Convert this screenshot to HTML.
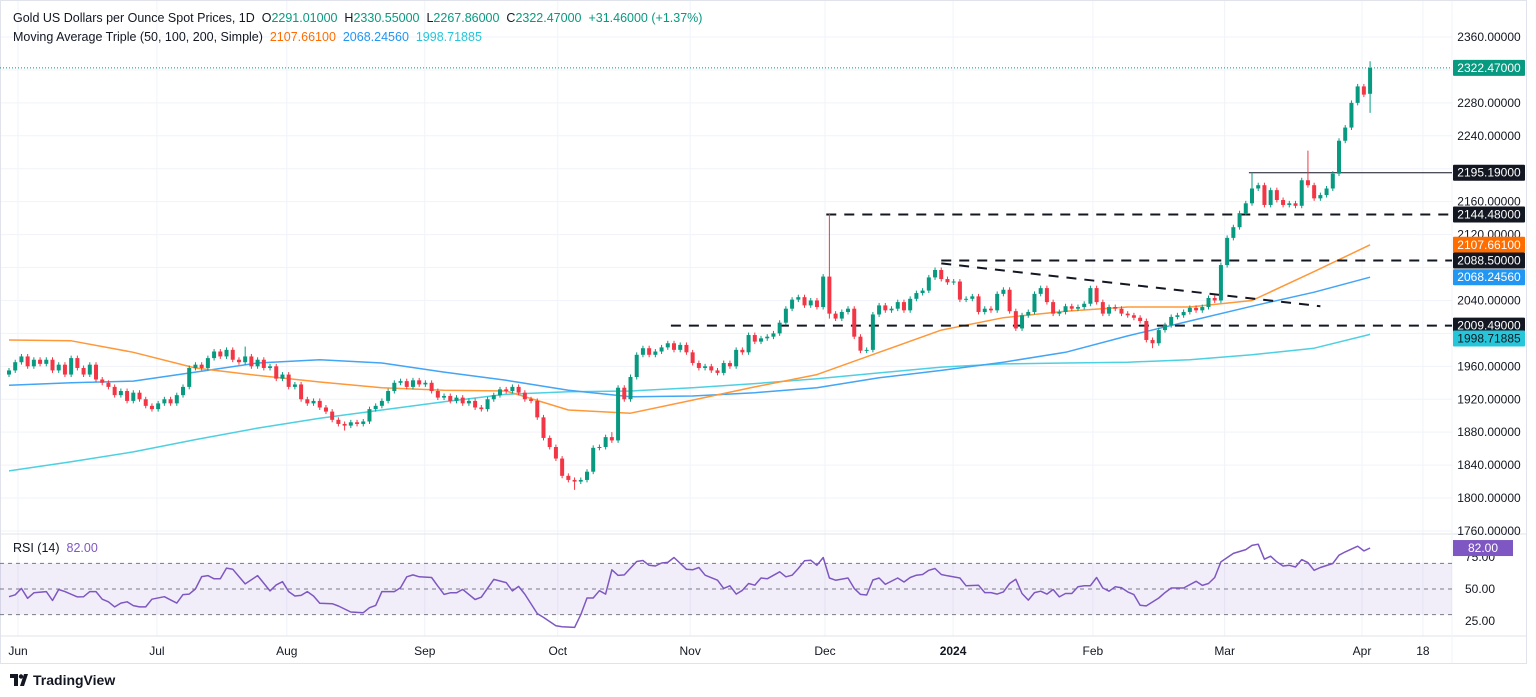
<!DOCTYPE html>
<html><head><meta charset="utf-8"><style>
html,body{margin:0;padding:0;background:#fff;width:1536px;height:697px;overflow:hidden;font-family:"Liberation Sans",sans-serif;}
svg{display:block}
</style></head><body>
<svg id="chart" width="1536" height="697" xmlns="http://www.w3.org/2000/svg" font-family="Liberation Sans, sans-serif">
<rect x="0" y="0" width="1536" height="697" fill="#fff"/>
<g id="grid"></g><g id="bands"></g><g id="ma"></g><g id="lines"></g><g id="candles"></g><g id="rsi"></g><g id="axes"></g>
</svg>
<script>
const closes=[1955,1965,1972,1960,1968,1963,1968,1955,1962,1950,
1970,1958,1950,1962,1944,1940,1935,1925,1930,1918,
1928,1920,1912,1908,1915,1920,1915,1925,1935,1958,
1962,1958,1970,1978,1972,1980,1968,1965,1972,1960,
1968,1958,1960,1945,1950,1935,1938,1920,1915,1918,
1910,1905,1895,1890,1888,1892,1890,1893,1908,1912,
1918,1930,1940,1942,1935,1943,1938,1940,1930,1922,
1924,1918,1922,1915,1918,1910,1908,1920,1925,1932,
1930,1935,1928,1920,1918,1898,1873,1862,1848,1827,
1822,1820,1822,1832,1861,1862,1874,1870,1934,1920,
1947,1974,1982,1974,1978,1983,1988,1980,1986,1977,
1964,1958,1960,1955,1952,1964,1960,1980,1977,1998,
1990,1994,1996,2000,2013,2030,2041,2044,2034,2040,2032,2069,
2024,2018,2026,2030,1996,1979,1980,2023,2034,2028,
2030,2038,2028,2042,2049,2052,2068,2077,2066,2062,
2063,2041,2042,2045,2026,2030,2028,2048,2053,2027,
2006,2022,2026,2048,2055,2038,2024,2026,2033,2030,
2032,2036,2055,2038,2024,2032,2030,2024,2022,2019,
2015,1992,1988,2004,2010,2020,2022,2026,2031,2028,
2032,2043,2040,2083,2116,2129,2146,2158,2176,2180,
2156,2174,2162,2156,2158,2155,2186,2180,2164,2168,
2176,2194,2234,2250,2280,2300,2290,2322.47];
const firstOpen=1950;
const highOverrides={132:2146,200:2195.19,209:2222,219:2330.55,131:2072,97:1880,38:1984};
const lowOverrides={219:2267.86,91:1810,184:1982,54:1882,132:2018};
const lastOpen=2291.01;
const maBars=[0,10,20,30,40,50,60,70,80,90,100,110,120,130,140,150,160,170,180,190,200,210,219];
const sma50=[1992,1991,1977,1958,1949,1941,1934,1931,1930,1907,1903,1919,1935,1950,1977,2004,2019,2027,2032,2032,2040,2075,2107.66];
const sma100=[1937,1940,1942,1953,1964,1968,1964,1953,1943,1931,1923,1924,1928,1934,1946,1955,1965,1977,1997,2015,2033,2050,2068.25];
const sma200=[1833,1844,1856,1871,1885,1897,1907,1917,1926,1929,1930,1934,1939,1945,1952,1959,1963,1964,1965,1968,1974,1982,1998.72];
const rsiBars=[0,1,2,3,4,6,7,8,9,11,12,13,14,15,16,17,18,19,20,21,22,23,25,26,27,28,29,30,31,32,33,34,35,36,37,38,40,42,43,44,45,46,47,48,49,50,52,53,55,57,58,59,60,62,63,64,65,66,68,69,70,71,72,73,75,76,78,80,81,82,83,85,86,88,89,91,92,93,94,95,96,97,98,99,100,101,102,103,104,105,106,107,109,110,111,112,114,115,116,117,118,119,120,121,122,124,125,126,127,128,129,130,131,132,133,135,136,137,138,139,140,141,143,144,145,146,147,148,149,150,151,153,154,156,157,158,159,160,161,162,163,164,165,166,167,168,169,170,171,172,173,174,175,176,177,178,179,180,181,182,183,185,186,187,189,191,192,193,194,195,197,199,200,201,202,203,204,205,206,207,208,209,210,211,213,214,215,217,218,219];
const rsiVals=[44,45.5,50.5,42.7,47,48,41,49.6,48,43.8,44,48,48,42,40,36,39,40,37,36,36,42,44,41.5,39,45.6,46,50,59.7,60.5,58,58,66.3,65.5,59.7,54,60.5,48.5,53.2,55.7,48,44.5,45,48,44.5,38.8,38.5,36.7,32,31.5,35.4,37.2,48,48,51,59.5,61,59.5,59,52.3,45.8,47,47,49.7,41.8,43.6,57.5,55,48.5,52,46,30.8,27.8,21.3,20.5,20,30,43,43,48.7,46,65,60.6,61,66.3,71.5,72.3,68.5,68,70.3,70.8,74.6,65.5,65,66.8,60.8,56.9,50.5,52.5,46,49,54.3,53,58.6,58,63.4,59.5,60.8,66,72,72.5,68.5,74.6,58.6,56.9,58.6,50.5,45.8,45.3,57,58.6,53.7,58.6,55.5,59,60.8,61.3,64.6,66,61.3,60.3,58.6,52.5,53,47.2,47.2,46,47.7,54.3,57.6,46.5,41.3,47.2,48.3,46,49.6,43.8,46.5,46.5,51.8,52.6,52.6,59,50.8,48.3,51.8,51,47.7,45.6,37.3,36.8,43,47.2,50.8,50.8,56,52.8,54.3,59,71.2,77.8,80.8,84.1,85,73.3,75.6,71.2,68,68.5,67.2,73,70.6,64.6,66.8,69.9,76.4,79,83.4,79.8,82];
const priceTicks=[2360,2320,2280,2240,2200,2160,2120,2080,2040,2000,1960,1920,1880,1840,1800,1760];
const timeLabels=["Jun","Jul","Aug","Sep","Oct","Nov","Dec","2024","Feb","Mar","Apr","18"];
const timeLabelBars=[1.45,23.8,44.7,66.9,88.3,109.6,131.3,151.9,174.4,195.6,217.7,227.5];
const levelPrices=[2144.48,2088.5,2009.49];
const levelStartBars=[131.5,150,106.5];
const resistance=2195.19, resistanceStart=199.5;
const trendBars=[150,211], trendPrices=[2085,2033];
const lastPrice=2322.47, rsiLast=82;

const NS="http://www.w3.org/2000/svg";
const PLOT_R=1452;
const xB=i=>9+i*6.215;
const yP=p=>37+(2360-p)*0.8233;
const yR=r=>589-(r-50)*1.28;
function mk(tag,attrs,parent,text){const e=document.createElementNS(NS,tag);for(const k in attrs)e.setAttribute(k,attrs[k]);if(text!==undefined)e.textContent=text;document.getElementById(parent).appendChild(e);return e;}

priceTicks.forEach(p=>{const l=mk('line',{x1:0,x2:PLOT_R,y1:yP(p),y2:yP(p),stroke:'#f0f3fa','stroke-width':1},'grid');

});
timeLabelBars.forEach(b=>{const l=mk('line',{x1:xB(b),x2:xB(b),y1:0,y2:636,stroke:'#f0f3fa','stroke-width':1},'grid');

});
mk('line',{x1:0,x2:1527,y1:534,y2:534,stroke:'#e0e3eb'},'grid');
mk('line',{x1:0,x2:1527,y1:636,y2:636,stroke:'#e0e3eb'},'grid');
mk('line',{x1:PLOT_R,x2:PLOT_R,y1:0,y2:663,stroke:'#f0f3fa'},'grid');
mk('rect',{x:0.5,y:0.5,width:1526,height:663,fill:'none',stroke:'#e0e3eb'},'grid');

const band=mk('rect',{x:0,y:yR(70),width:PLOT_R,height:yR(30)-yR(70),fill:'rgba(126,87,194,0.1)'},'bands');


[70,50,30].forEach(v=>{const l=mk('line',{x1:0,x2:PLOT_R,y1:yR(v),y2:yR(v),stroke:'#787b86','stroke-dasharray':'4 4','stroke-width':1},'bands');

});

function maLine(arr,color,name){const pts=maBars.map((b,k)=>xB(b).toFixed(1)+','+yP(arr[k]).toFixed(1)).join(' ');
const pl=mk('polyline',{points:pts,fill:'none',stroke:color,'stroke-width':1.5,'stroke-linejoin':'round'},'ma');

}
maLine(sma200,'#4dd0e1','sma-200-line');
maLine(sma100,'#42a5f5','sma-100-line');
maLine(sma50,'#ff9838','sma-50-line');

levelPrices.forEach((p,k)=>{const l=mk('line',{x1:xB(levelStartBars[k]),x2:PLOT_R,y1:yP(p),y2:yP(p),stroke:'#131722','stroke-width':2,'stroke-dasharray':'10 8'},'lines');

});
const rl=mk('line',{x1:xB(resistanceStart),x2:PLOT_R,y1:yP(resistance),y2:yP(resistance),stroke:'#131722','stroke-width':1},'lines');


const tl=mk('line',{x1:xB(trendBars[0]),x2:xB(trendBars[1]),y1:yP(trendPrices[0]),y2:yP(trendPrices[1]),stroke:'#131722','stroke-width':2,'stroke-dasharray':'10 8'},'lines');


const ll=mk('line',{x1:0,x2:PLOT_R,y1:yP(lastPrice),y2:yP(lastPrice),stroke:'#089981','stroke-width':1,'stroke-dasharray':'1 2'},'lines');



closes.forEach((c,i)=>{
 const o = i===closes.length-1 ? lastOpen : (i===0?firstOpen:closes[i-1]);
 const hi = highOverrides[i]!==undefined?highOverrides[i]:Math.max(o,c)+3;
 const lo = lowOverrides[i]!==undefined?lowOverrides[i]:Math.min(o,c)-3;
 const up=c>=o, col=up?'#089981':'#f23645', x=xB(i);
 const w=mk('line',{x1:x,x2:x,y1:yP(hi),y2:yP(lo),stroke:col,'stroke-width':1},'candles');
 
 
 const top=yP(Math.max(o,c)), bh=Math.max(1,yP(Math.min(o,c))-top);
 const b=mk('rect',{x:x-2,y:top,width:4,height:bh,fill:col},'candles');
 
 
});

const rpts=rsiBars.map((b,k)=>xB(b).toFixed(1)+','+yR(rsiVals[k]).toFixed(1)).join(' ');
const rl2=mk('polyline',{points:rpts,fill:'none',stroke:'#7e57c2','stroke-width':1.5,'stroke-linejoin':'round'},'rsi');



const hidden=[2320,2200,2080,2000];
priceTicks.forEach(p=>{if(hidden.includes(p))return;const t=mk('text',{x:1489,y:yP(p)+4,'font-size':12,fill:'#131722','text-anchor':'middle'},'axes',p.toFixed(5));

});
function tag(p,txt,bg,fg,name,yv){const y=yv!==undefined?yv:yP(p);
const r=mk('rect',{x:1453,y:y-8,width:72,height:16,fill:bg,rx:1},'axes');


const t=mk('text',{x:1489,y:y+4,'font-size':12,fill:fg,'text-anchor':'middle'},'axes',txt);

}
tag(2195.19,'2195.19000','#131722','#fff','tag-resistance');
tag(2144.48,'2144.48000','#131722','#fff','tag-level-2144');
tag(2107.661,'2107.66100','#ff6d00','#fff','tag-sma50');
tag(2068.2456,'2068.24560','#2196f3','#fff','tag-sma100');
tag(2088.5,'2088.50000','#131722','#fff','tag-level-2088');
tag(2009.49,'2009.49000','#131722','#fff','tag-level-2009');
tag(1998.71885,'1998.71885','#26c6da','#131722','tag-sma200',yP(1998.71885)+4);
tag(lastPrice,'2322.47000','#089981','#fff','tag-last-price');
[['75.00',yR(75)+4],['50.00',yR(50)+4],['25.00',yR(25)+4]].forEach(a=>{const t=mk('text',{x:1480,y:a[1],'font-size':12,fill:'#131722','text-anchor':'middle'},'axes',a[0]);

});
const rr=mk('rect',{x:1453,y:yR(rsiLast)-8,width:60,height:16,fill:'#7e57c2'},'axes');


const rt=mk('text',{x:1483,y:yR(rsiLast)+4,'font-size':12,fill:'#fff','text-anchor':'middle'},'axes','82.00');


timeLabels.forEach((s,k)=>{const t=mk('text',{x:xB(timeLabelBars[k]),y:655,'font-size':12,fill:'#131722','text-anchor':'middle','font-weight':s==='2024'?'bold':'normal'},'axes',s);

});
</script>
<div style="position:absolute;left:13px;top:8px;font-size:12.5px;color:#131722;line-height:20px;white-space:nowrap">
<div>Gold US Dollars per Ounce Spot Prices, 1D &nbsp;O<span style="color:#089981">2291.01000</span> &nbsp;H<span style="color:#089981">2330.55000</span> &nbsp;L<span style="color:#089981">2267.86000</span> &nbsp;C<span style="color:#089981">2322.47000</span> &nbsp;<span style="color:#089981">+31.46000 (+1.37%)</span></div>
<div style="margin-top:-1px">Moving Average Triple (50, 100, 200, Simple) &nbsp;<span style="color:#ff6d00">2107.66100</span> &nbsp;<span style="color:#2196f3">2068.24560</span> &nbsp;<span style="color:#26c6da">1998.71885</span></div>
</div>
<div style="position:absolute;left:13px;top:541px;font-size:12.5px;color:#131722">RSI (14) &nbsp;<span style="color:#7e57c2">82.00</span></div>
<div style="position:absolute;left:10px;top:672px;font-size:14px;font-weight:bold;color:#131722;display:flex;align-items:center;gap:5px">
<svg width="18" height="12" viewBox="0 0 18 12"><rect x="0" y="0" width="8" height="4" fill="#131722"/><rect x="4" y="0" width="4" height="12" fill="#131722"/><circle cx="11" cy="2.5" r="2.2" fill="#131722"/><polygon points="10,12 14,0 18,0 14,12" fill="#131722"/></svg>TradingView</div>
</body></html>
